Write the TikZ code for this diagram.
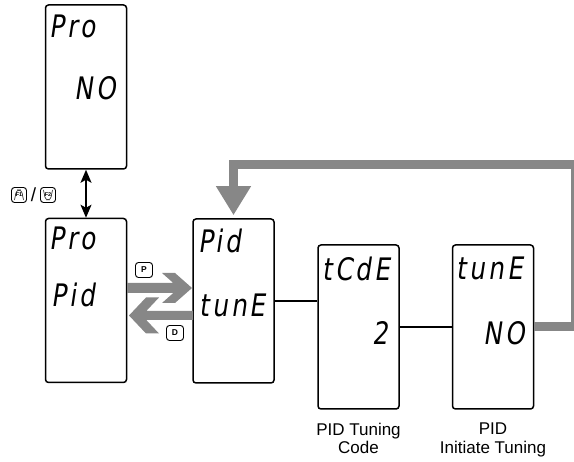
\documentclass[tikz,border=0pt]{standalone}
\usepackage{fontspec}
\setmainfont{Liberation Sans}
\newfontfamily\segfont[FakeSlant=0.15,FakeStretch=0.8,LetterSpace=10]{DejaVu Sans}
\usetikzlibrary{arrows.meta,calc}
\definecolor{bandgray}{RGB}{135,135,135}
\tikzset{
 dispbox/.style={draw=black, line width=1.5pt, rounded corners=3pt, minimum width=81pt, minimum height=164pt, inner sep=0pt},
 segtext/.style={font=\segfont\fontsize{31}{31}\selectfont, inner sep=0pt},
 conn/.style={draw=black, line width=1.2pt},
 band/.style={draw=bandgray, line width=9pt, line join=miter},
 pdarrow/.style={fill=bandgray},
 keycap/.style={draw=black, line width=0.9pt, rounded corners=3pt, minimum width=17pt, minimum height=15pt, inner sep=0pt, font=\bfseries\fontsize{8.5}{8.5}\selectfont},
 fkey/.style={keycap, minimum width=15pt, font=\bfseries\fontsize{5.5}{5.5}\selectfont},
 caption/.style={font=\fontsize{17}{18.5}\selectfont, align=center, anchor=north, inner sep=0pt},
 trapup/.style={path picture={\draw[line width=0.5pt] ($(path picture bounding box.south west)+(3pt,2.5pt)$) -- ($(path picture bounding box.north west)+(5pt,-2.5pt)$) -- ($(path picture bounding box.north east)+(-5pt,-2.5pt)$) -- ($(path picture bounding box.south east)+(-3pt,2.5pt)$);}},
 trapdown/.style={path picture={\draw[line width=0.5pt] ($(path picture bounding box.north west)+(3pt,-2.5pt)$) -- ($(path picture bounding box.south west)+(5pt,2.5pt)$) -- ($(path picture bounding box.south east)+(-5pt,2.5pt)$) -- ($(path picture bounding box.north east)+(-3pt,-2.5pt)$);}}
}
\begin{document}
\begin{tikzpicture}[x=1pt,y=-1pt]
\useasboundingbox (0,0) rectangle (574,462);
% display boxes
\node[dispbox] (b1) at (86,87) {};
\node[dispbox] (b2) at (86,300.5) {};
\node[dispbox] (b3) at (233.5,301) {};
\node[dispbox] (b4) at (358.5,327) {};
\node[dispbox] (b5) at (493,327) {};
% display texts
\node[segtext, anchor=base west] (t1a) at ($(b1.north west)+(5,33)$) {Pro};
\node[segtext, anchor=base east] (t1b) at ($(b1.north east)+(-11,95)$) {NO};
\node[segtext, anchor=base west] (t2a) at ($(b2.north west)+(5,32)$) {Pro};
\node[segtext, anchor=base west] (t2b) at ($(b2.north west)+(7,89)$) {Pid};
\node[segtext, anchor=base west] (t3a) at ($(b3.north west)+(6,34)$) {Pid};
\node[segtext, anchor=base west] (t3b) at ($(b3.north west)+(7,98)$) {tunE};
\node[segtext, anchor=base west] (t4a) at ($(b4.north west)+(5,36)$) {tCdE};
\node[segtext, anchor=base east] (t4b) at ($(b4.north east)+(-11,100)$) {2};
\node[segtext, anchor=base west] (t5a) at ($(b5.north west)+(5,35)$) {tunE};
\node[segtext, anchor=base east] (t5b) at ($(b5.north east)+(-9,100)$) {NO};
% thin connectors
\draw[conn] (b3.east) -- (b3.east -| b4.west);
\draw[conn] (b4.east) -- (b5.west);
% gray return band
\coordinate (rb) at (575,327);
\coordinate (rt) at (575,164.5);
\coordinate (lt) at (233.5,164.5);
\draw[band, -{Triangle[width=33pt,length=29pt]}] (b5.east) -- (rb) -- (rt) -- (lt) -- ([yshift=3pt]b3.north);
% vertical double arrow
\draw[line width=1.5pt, {Stealth[width=11pt,length=13pt,inset=3pt]}-{Stealth[width=11pt,length=13pt,inset=3pt]}] (b1.south) -- (b2.north);
% P / D arrows
\fill[pdarrow] (127,283) -- (173.3,283) -- (162,273) -- (175,273) -- (192,288) -- (175,303) -- (162,303) -- (173.3,293) -- (127,293) -- cycle;
\fill[pdarrow] (193,311) -- (146.3,311) -- (159,297.5) -- (146,297.5) -- (129,315.5) -- (146,333.5) -- (159,333.5) -- (146.3,320) -- (193,320) -- cycle;
% keys
\node[keycap] (kp) at (144,270) {P};
\node[keycap] (kd) at (175,333) {D};
\node[fkey, trapup] (kf1) at (19,195) {F1};
\node[inner sep=0pt, font=\fontsize{19}{19}\selectfont] (sl) at (33.5,195) {/};
\node[fkey, trapdown] (kf2) at (48,195) {F2};
% captions
\node[caption] (c4) at ($(b4.south)+(0,13)$) {PID Tuning\\Code};
\node[caption] (c5) at ($(b5.south)+(0,13)$) {PID\\Initiate Tuning};
\end{tikzpicture}
\end{document}
